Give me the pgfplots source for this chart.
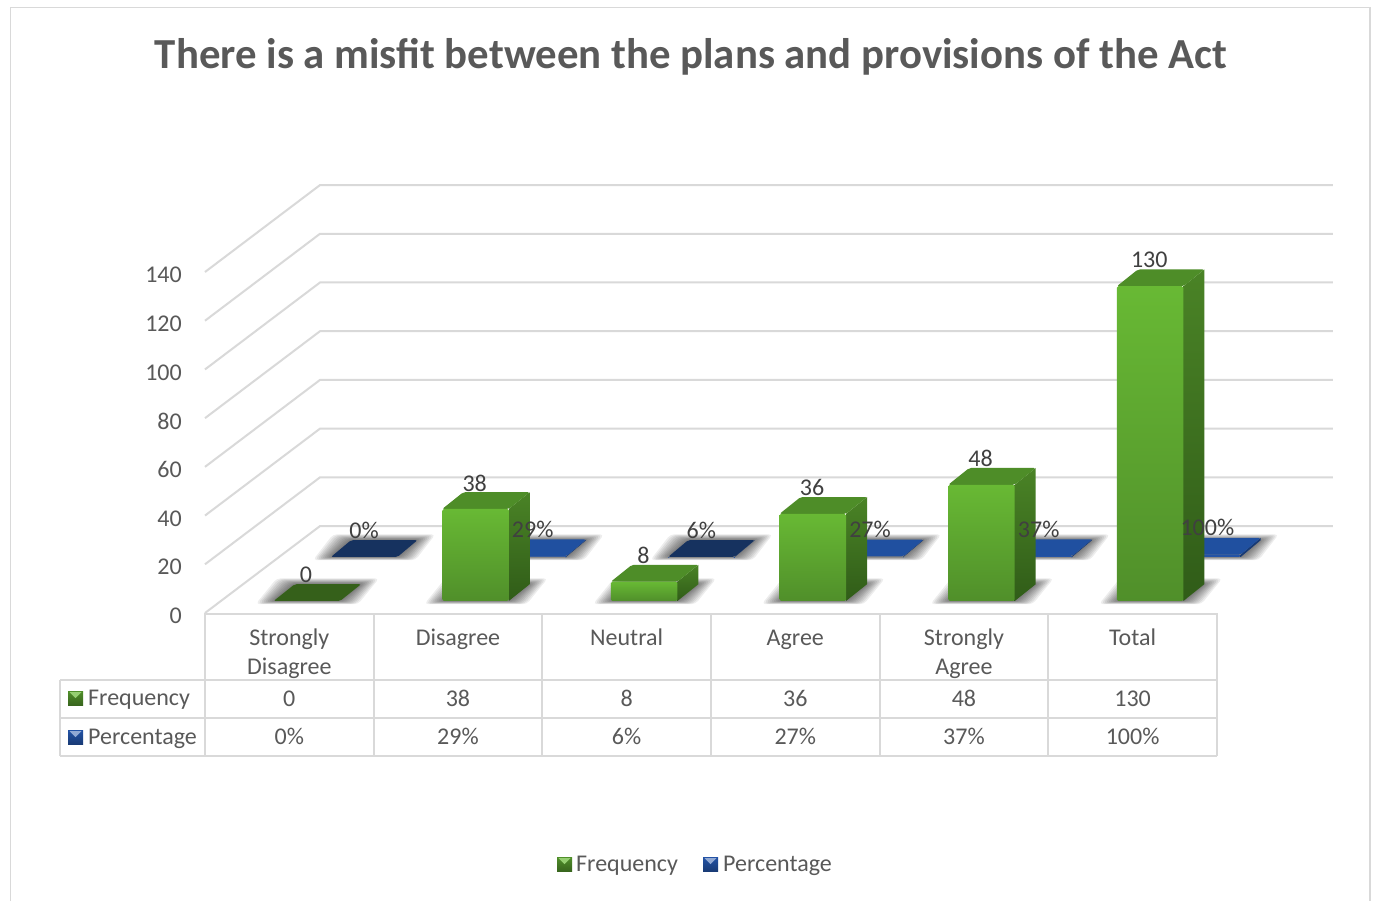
\documentclass[border=0pt]{standalone}
\usepackage{pgfplots}
\usepackage{pgfplotstable}
\usepackage{fontspec}
\setmainfont{Carlito}
\pgfplotsset{compat=1.18}
\definecolor{gridc}{HTML}{D9D9D9}
\definecolor{txt}{HTML}{595959}
\definecolor{lbl}{HTML}{404040}
\definecolor{gF}{HTML}{68B934}
\definecolor{gFb}{HTML}{508F2A}
\definecolor{gS}{HTML}{4A8326}
\definecolor{gSb}{HTML}{305C18}
\definecolor{gT}{HTML}{4E8D28}
\definecolor{gZ}{HTML}{35601A}
\definecolor{bF}{HTML}{2353A6}
\definecolor{bS}{HTML}{173A75}
\definecolor{bT}{HTML}{2050A0}
\definecolor{bZ}{HTML}{16325F}
\pgfplotstableread{
i freq pct
0 0 0
1 38 29
2 8 6
3 36 27
4 48 37
5 130 100
}\data
\newcommand\tsize{\fontsize{24}{29}\selectfont}
% px -> data: x/168.67, y/2.4357
\def\bw{0.394}
\newcommand\drawcol[6]{% i, value, xoff, ybase, depth-dx, top colour
  \pgfmathsetmacro\xa{#1+#3}
  \pgfmathsetmacro\xb{\xa+\bw}
  \pgfmathsetmacro\xc{\xb+#5}
  \pgfmathsetmacro\xd{\xa+#5}
  \pgfmathsetmacro\ya{#4}
  \pgfmathsetmacro\yb{#4+#2*0.994}
  \pgfmathsetmacro\yc{#4+6.9}
  \pgfmathsetmacro\yd{#4+#2*0.994+6.9}
  \pgfplotsforeachungrouped \e in {1,...,9}{%
    \pgfmathsetmacro\sx{2*\e/168.67}
    \pgfmathsetmacro\st{0.65*\e/2.4357}
    \pgfmathsetmacro\sb{0.35*\e/2.4357}
    \pgfmathsetmacro\pa{\xa-\sx}
    \pgfmathsetmacro\pb{\xb+\sx}
    \pgfmathsetmacro\pc{\xc+\sx}
    \pgfmathsetmacro\pd{\xd-\sx}
    \pgfmathsetmacro\qa{\ya-\sb}
    \pgfmathsetmacro\qc{\yc+\st}
    \addplot[forget plot,draw=none,fill=black,fill opacity=0.07,rounded corners=4pt] coordinates {(\pa,\qa) (\pb,\qa) (\pc,\qc) (\pd,\qc)} --cycle;
  }
  \ifdim #2pt>0pt
    \edef\tmp{\noexpand\addplot[forget plot,draw=none,top color=\colS,bottom color=\colSb] coordinates {(\xb,\ya) (\xc,\yc) (\xc,\yd) (\xb,\yb)} --cycle;}\tmp
  \fi
  \addplot[forget plot,draw=none,fill=#6,rounded corners=2pt] coordinates {(\xa,\yb) (\xb,\yb) (\xc,\yd) (\xd,\yd)} --cycle;
  \ifdim #2pt>0pt
    \edef\tmp{\noexpand\addplot[forget plot,draw=none,top color=\colF,bottom color=\colFb,rounded corners=1.5pt] coordinates {(\xa,\ya) (\xb,\ya) (\xb,\yb) (\xa,\yb)} --cycle;}\tmp
  \fi
}
\newcommand\swatch[4]{% x, y, dark, light
  \fill[bottom color=#3!70!black,top color=#3] (#1,#2) rectangle ++(15,14.5);
  \fill[#4] (#1+1.5,#2+1) -- ++(12,0) -- ++(-6,6) -- cycle;
}
\begin{document}
\begin{tikzpicture}
\begin{scope}[x=1pt,y=-1pt]
  \fill[white] (0,0) rectangle (1377,901);
  \draw[gridc,line width=1.8pt] (10.5,901) -- (10.5,7.5) -- (1370,7.5) -- (1370,901);
  \node[anchor=center,text=txt,font={\fontsize{42.8}{50}\selectfont\bfseries}] at (691,57) {There is a misfit between the plans and provisions of the Act};
  % table rules
  \draw[gridc,line width=2pt] (205,613.5) -- (1217,613.5);
  \draw[gridc,line width=2pt] (60,680) -- (1217,680) (60,718) -- (1217,718) (60,756) -- (1217,756) (60,680) -- (60,756);
  \foreach \k in {0,...,6} \draw[gridc,line width=2pt] ({205+168.67*\k},613) -- ({205+168.67*\k},756);
  % row headers
  \swatch{68}{691}{gFb}{gF!70!white}
  \swatch{68}{730}{bF}{bF!50!white}
  \node[anchor=base west,inner sep=0pt,text=txt,font=\tsize] at (88,705.5) {Frequency};
  \node[anchor=base west,inner sep=0pt,text=txt,font=\tsize] at (88,744.5) {Percentage};
  % legend
  \swatch{557}{857}{gFb}{gF!70!white}
  \swatch{703}{857}{bF}{bF!50!white}
  \node[anchor=base west,inner sep=0pt,text=txt,font=\tsize] at (576,871.5) {Frequency};
  \node[anchor=base west,inner sep=0pt,text=txt,font=\tsize] at (723,871.5) {Percentage};
\end{scope}
\begin{axis}[
  at={(205pt,-613pt)},anchor=south west,
  scale only axis,width=1012pt,height=341pt,
  xmin=0,xmax=6,ymin=0,ymax=140,
  clip=false,
  axis line style={draw=none},
  tick style={draw=none},
  ytick={0,20,...,140},
  xtick={0.5,1.5,2.5,3.5,4.5,5.5},
  xticklabels={{\vphantom{d}Strongly\\Disagree},{\vphantom{d}Disagree},{\vphantom{d}Neutral},{\vphantom{d}Agree},{\vphantom{d}Strongly\\Agree},{\vphantom{d}Total}},
  /pgf/number format/assume math mode=true,
  tick label style={text=txt,font=\tsize},
  yticklabel style={anchor=east,inner sep=0pt,xshift=-23pt,yshift=-3pt},
  xticklabel style={align=center,anchor=north,inner sep=0pt,yshift=-16pt},
  every node near coord/.append style={anchor=center,font=\tsize,inner sep=0pt},
]
% walls
\pgfplotsinvokeforeach{0,20,...,140}{%
  \pgfmathsetmacro\yw{#1+35.7}
  \addplot[forget plot,gridc,line width=2pt] coordinates {(0,#1) (0.682,\yw) (6.688,\yw)};
}
% back row: percentage
\def\colF{bF}\def\colFb{bF}\def\colS{bS}\def\colSb{bS}
\pgfplotsinvokeforeach{0,...,5}{%
  \pgfplotstablegetelem{#1}{pct}\of\data
  \pgfmathsetmacro\v{\pgfplotsretval/100}
  \ifdim\pgfplotsretval pt<10pt
    \drawcol{#1}{\v}{0.747}{23}{0.1186}{bZ}
  \else
    \drawcol{#1}{\v}{0.747}{23}{0.1186}{bT}
  \fi
}
% front row: frequency
\def\colF{gF}\def\colFb{gFb}\def\colS{gS}\def\colSb{gSb}
\pgfplotsinvokeforeach{0,...,5}{%
  \pgfplotstablegetelem{#1}{freq}\of\data
  \let\v\pgfplotsretval
  \ifdim\v pt>0pt
    \drawcol{#1}{\v}{0.407}{4.93}{0.1245}{gT}
  \else
    \drawcol{#1}{\v}{0.407}{4.93}{0.1245}{gZ}
  \fi
}
% data labels
\addplot[forget plot,only marks,mark=none,nodes near coords,point meta=\thisrow{freq},
  every node near coord/.append style={text=lbl}]
  table[x expr=\thisrow{i}+0.599,y expr=\thisrow{freq}*0.994+15.6] {\data};
\addplot[forget plot,only marks,mark=none,nodes near coords={\pgfmathprintnumber{\pgfplotspointmeta}\%},point meta=\thisrow{pct},
  every node near coord/.append style={text=lbl}]
  table[x expr=\thisrow{i}+0.943,y expr=34+\thisrow{pct}/100] {\data};
% data table
\addplot[forget plot,only marks,mark=none,nodes near coords,point meta=\thisrow{freq},
  every node near coord/.append style={text=txt}]
  table[x expr=\thisrow{i}+0.5,y expr=-35.2] {\data};
\addplot[forget plot,only marks,mark=none,nodes near coords={\pgfmathprintnumber{\pgfplotspointmeta}\%},point meta=\thisrow{pct},
  every node near coord/.append style={text=txt}]
  table[x expr=\thisrow{i}+0.5,y expr=-50.7] {\data};
\end{axis}
\end{tikzpicture}
\end{document}
